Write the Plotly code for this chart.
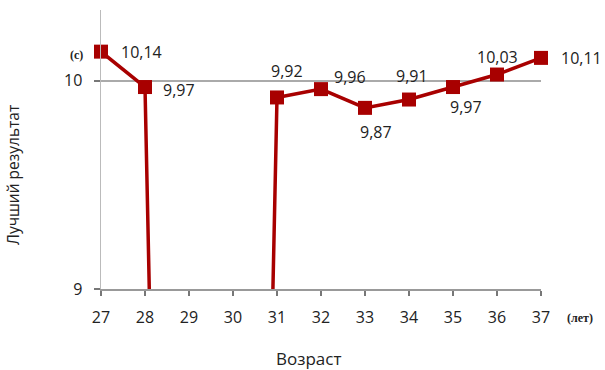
import plotly.graph_objects as go

ages = [27, 28, 29, 30, 31, 32, 33, 34, 35, 36, 37]
best = [10.14, 9.97, 0, 0, 9.92, 9.96, 9.87, 9.91, 9.97, 10.03, 10.11]
labels = ["10,14", "9,97", "", "", "9,92", "9,96", "9,87", "9,91", "9,97", "10,03", "10,11"]
# label offsets (style): xanchor, xshift, yshift
label_pos = [("left", 18, 0), ("left", 16, -3), None, None, ("center", 10, 26),
             ("center", 29, 12), ("center", 11, -24), ("center", 3, 24),
             ("center", 13, -20), ("center", 0, 18), ("left", 18, 0)]

RED = "#A80000"
FONT = "Open Sans"
TXT = "#222"

W, H = 605, 370
# plot area in screen pixels
PX0, PX1, PY0, PY1 = 101, 541, 10, 289
L, R, T, B = PX0, W - PX1, PY0, H - PY1
pw, ph = PX1 - PX0, PY1 - PY0


def paper(px, py):
    return (px - PX0) / pw, (PY1 - py) / ph


fig = go.Figure()
fig.add_trace(go.Scatter(
    x=ages, y=best, mode="lines+markers",
    line=dict(color=RED, width=3.5),
    marker=dict(symbol="square", size=14, color=RED),
    cliponaxis=False, showlegend=False, hoverinfo="skip",
))

annotations = []
for a, v, t, p in zip(ages, best, labels, label_pos):
    if p is None:
        continue
    annotations.append(dict(x=a, y=v, xref="x", yref="y", text=t, showarrow=False,
                            xanchor=p[0], yanchor="middle", xshift=p[1], yshift=p[2],
                            font=dict(family=FONT, size=16, color=TXT)))

cx, cy = paper(76, 55)
lx, ly = paper(565, 318)
yx, yy = paper(13, 175)
xx, xy = paper(308, 358)
annotations += [
    dict(x=cx, y=cy, xref="paper", yref="paper", text="<b>(c)</b>", showarrow=False,
         xanchor="center", yanchor="middle", font=dict(family="Liberation Serif", size=12, color=TXT)),
    dict(x=lx, y=ly, xref="paper", yref="paper", text="<b>(лет)</b>", showarrow=False,
         xanchor="left", yanchor="middle", font=dict(family="Liberation Serif", size=12, color=TXT)),
    dict(x=yx, y=yy, xref="paper", yref="paper", text="Лучший результат", showarrow=False,
         textangle=-90, xanchor="center", yanchor="middle",
         font=dict(family=FONT, size=15.5, color=TXT)),
    dict(x=xx, y=xy, xref="paper", yref="paper", text="Возраст", showarrow=False,
         xanchor="center", yanchor="middle",
         font=dict(family=FONT, size=17, color=TXT)),
]

fig.update_layout(
    width=W, height=H,
    margin=dict(l=L, r=R, t=T, b=B, pad=0),
    paper_bgcolor="white", plot_bgcolor="white",
    annotations=annotations,
    xaxis=dict(range=[27, 37], tickvals=ages, ticktext=[str(a) for a in ages],
               showgrid=False, zeroline=False, showline=True, linecolor="#999", linewidth=1.5,
               ticks="outside", ticklen=5, tickcolor="#777", tickwidth=1.5,
               ticklabelstandoff=8,
               tickfont=dict(family=FONT, size=16, color=TXT)),
    yaxis=dict(range=[9, 10.34], tickvals=[9, 10], ticktext=["9", "10"],
               showgrid=True, gridcolor="#aaa", gridwidth=1.5, zeroline=False,
               showline=True, linecolor="#bbb", linewidth=1.5,
               ticks="outside", ticklen=6, tickcolor="#777", tickwidth=1.5,
               ticklabelstandoff=8,
               tickfont=dict(family=FONT, size=16, color=TXT)),
)

# remove the default 8px page margin so the figure fills the 605x370 window exactly
fig.write_html("out.html", config={"displayModeBar": False, "staticPlot": True},
               post_script="document.body.style.margin='0';document.body.style.overflow='hidden';")
